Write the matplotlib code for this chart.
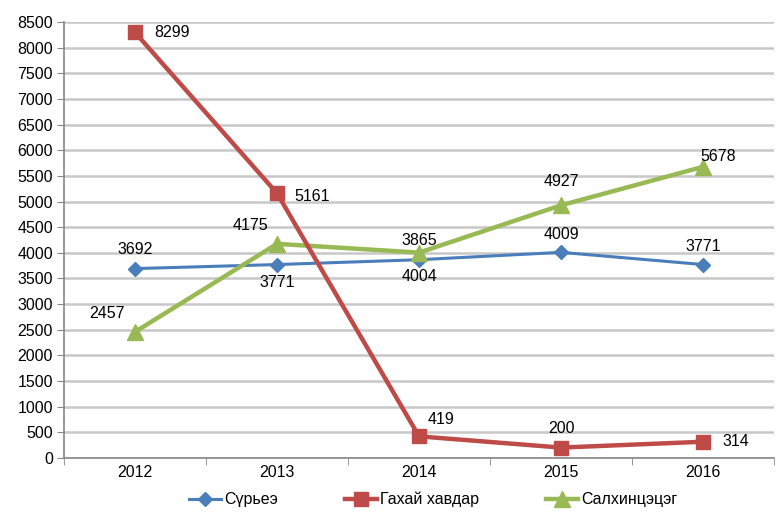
import matplotlib
matplotlib.use("Agg")
import matplotlib.pyplot as plt
import numpy as np

plt.rcParams['font.family'] = ['Liberation Sans', 'DejaVu Sans']

years = ['2012', '2013', '2014', '2015', '2016']
tb = [3692, 3771, 3865, 4009, 3771]          # Сүрьеэ
mumps = [8299, 5161, 419, 200, 314]          # Гахай хавдар
chickenpox = [2457, 4175, 4004, 4927, 5678]  # Салхинцэцэг

# label offsets in pixels (dx, dy)
tb_off = [(0, 19), (0, -18), (0, 19), (0, 18), (0, 18)]
mumps_off = [(37, 0), (35, -3), (22, 17), (0, 19), (33, 0)]
chick_off = [(-28, 18), (-27, 18), (0, -24), (0, 24), (15, 10)]

fs = 11.5

fig = plt.figure(figsize=(7.76, 5.15), dpi=100)
ax = fig.add_axes([0.0825, 0.111, 0.915, 0.846])

x = np.arange(len(years))
ax.plot(x, tb, color='#4a7ebb', lw=2.2, marker='D', ms=7, label='Сүрьеэ', zorder=3)
ax.plot(x, chickenpox, color='#98b954', lw=3.2, marker='^', ms=11, label='Салхинцэцэг', zorder=4)
ax.plot(x, mumps, color='#be4b48', lw=3.2, marker='s', ms=10, label='Гахай хавдар', zorder=5)

for vals, offs in [(tb, tb_off), (mumps, mumps_off), (chickenpox, chick_off)]:
    for xi, v, (dx, dy) in zip(x, vals, offs):
        ax.annotate(str(v), (xi, v), xytext=(dx, dy), textcoords='offset pixels',
                    ha='center', va='center', fontsize=fs, zorder=6)

ax.set_xlim(-0.5, 4.5)
ax.set_ylim(0, 8500)
ax.set_yticks(np.arange(0, 8501, 500))
ax.set_xticks(x)
ax.set_xticklabels(years)
ax.set_xticks(np.arange(-0.5, 4.6, 1), minor=True)
ax.tick_params(axis='x', which='major', length=0, pad=5, labelsize=fs)
ax.tick_params(axis='x', which='minor', length=5, color='#888888')
ax.tick_params(axis='y', length=5, color='#888888', labelsize=fs, pad=3)

ax.grid(axis='y', color='#c8c8c8', lw=1.8)
ax.set_axisbelow(True)
for s in ['top', 'right']:
    ax.spines[s].set_visible(False)
for s in ['left', 'bottom']:
    ax.spines[s].set_color('#888888')
    ax.spines[s].set_linewidth(1.2)

handles, labels = ax.get_legend_handles_labels()
order = [0, 2, 1]
ax.legend([handles[i] for i in order], [labels[i] for i in order],
          loc='upper center', bbox_to_anchor=(0.52, -0.045), ncol=3, frameon=False,
          fontsize=fs, columnspacing=4.2, handlelength=2.0, handletextpad=0.2)

fig.savefig('out.png', dpi=100)
